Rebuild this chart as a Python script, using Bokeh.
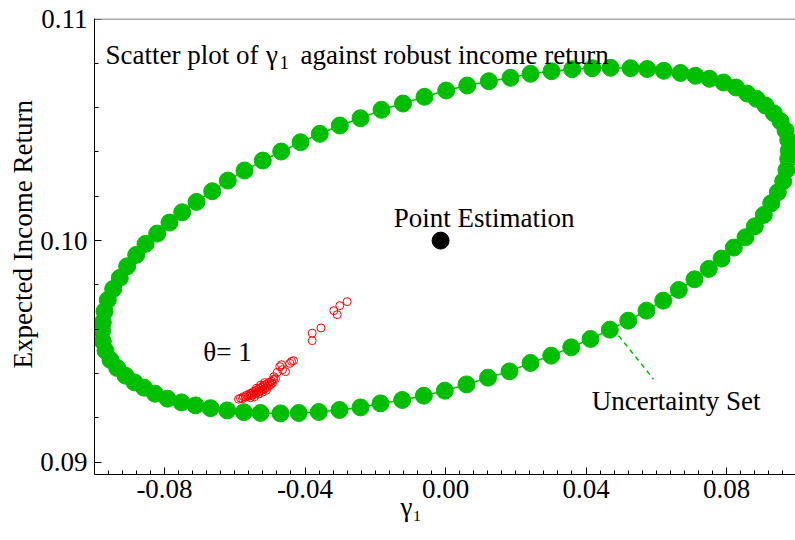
from bokeh.plotting import figure
from bokeh.models import Range1d, FixedTicker, Label, Span, Title
from bokeh.embed import file_html
from bokeh.resources import INLINE

# ---------------- data ----------------
# uncertainty set (ellipse) points: gamma_1 vs expected income return
ellipse_x = [
    -0.09757, -0.09708, -0.09614, -0.09461, -0.09273, -0.09062, -0.08806, -0.08541,
    -0.08208, -0.07858, -0.07496, -0.07089, -0.06642, -0.06198, -0.05722, -0.05202,
    -0.04678, -0.04128, -0.03579, -0.03009, -0.02420, -0.01822, -0.01210, -0.00598,
    0.00020, 0.00618, 0.01233, 0.01851, 0.02420, 0.03018, 0.03607, 0.04177,
    0.04698, 0.05267, 0.05742, 0.06215, 0.06690, 0.07117, 0.07516, 0.07915,
    0.08271, 0.08584, 0.08854, 0.09110, 0.09347, 0.09537, 0.09680, 0.09757, 0.09774,
    0.09757, 0.09708, 0.09614, 0.09461, 0.09273, 0.09062, 0.08806, 0.08541,
    0.08208, 0.07858, 0.07496, 0.07089, 0.06642, 0.06198, 0.05722, 0.05202,
    0.04678, 0.04128, 0.03579, 0.03009, 0.02420, 0.01822, 0.01210, 0.00598,
    -0.00020, -0.00618, -0.01233, -0.01851, -0.02420, -0.03018, -0.03607, -0.04177,
    -0.04698, -0.05267, -0.05742, -0.06215, -0.06690, -0.07117, -0.07516, -0.07915,
    -0.08271, -0.08584, -0.08854, -0.09110, -0.09347, -0.09537, -0.09680, -0.09757, -0.09774,
]
ellipse_y = [
    0.096311, 0.096808, 0.097323, 0.097819, 0.098316, 0.098840, 0.099354, 0.099851,
    0.100316, 0.100813, 0.101278, 0.101747, 0.102226, 0.102709, 0.103161, 0.103612,
    0.104018, 0.104438, 0.104817, 0.105192, 0.105522, 0.105901, 0.106186, 0.106488,
    0.106773, 0.106998, 0.107193, 0.107346, 0.107527, 0.107644, 0.107734, 0.107779,
    0.107797, 0.107779, 0.107743, 0.107662, 0.107563, 0.107436, 0.107301, 0.107134,
    0.106908, 0.106637, 0.106398, 0.106095, 0.105748, 0.105386, 0.104967, 0.104547, 0.104064,
    0.103689, 0.103192, 0.102677, 0.102181, 0.101684, 0.101160, 0.100646, 0.100149,
    0.099684, 0.099187, 0.098722, 0.098253, 0.097774, 0.097291, 0.096839, 0.096388,
    0.095982, 0.095562, 0.095183, 0.094808, 0.094478, 0.094099, 0.093814, 0.093512,
    0.093227, 0.093002, 0.092807, 0.092654, 0.092473, 0.092356, 0.092266, 0.092221,
    0.092203, 0.092221, 0.092257, 0.092338, 0.092437, 0.092564, 0.092699, 0.092866,
    0.093092, 0.093363, 0.093602, 0.093905, 0.094252, 0.094614, 0.095033, 0.095453, 0.095936,
]

# robust solutions for theta = 1
robust_x = [
    -0.05893, -0.05836, -0.05779, -0.05751, -0.05694, -0.05666, -0.05609, -0.05580,
    -0.05552, -0.05523, -0.05495, -0.05466, -0.05438, -0.05409, -0.05381, -0.05352,
    -0.05324, -0.05295, -0.05267, -0.05238, -0.05210, -0.05182, -0.05153, -0.05125,
    -0.05096, -0.05068, -0.05039, -0.05011, -0.04982, -0.04954, -0.04925, -0.04897,
    -0.05324, -0.05210, -0.05096, -0.05552, -0.05438, -0.05381, -0.05267, -0.05153,
    -0.04888, -0.04792, -0.04840, -0.04717, -0.04669, -0.04555, -0.04641, -0.04433,
    -0.04384, -0.04327, -0.03795, -0.03795, -0.03544, -0.03180, -0.03083, -0.03009,
    -0.02799,
]
robust_y = [
    0.092844, 0.092889, 0.092866, 0.092957, 0.092934, 0.093024, 0.092979, 0.093092,
    0.093002, 0.093115, 0.093024, 0.093182, 0.093069, 0.093227, 0.093115, 0.093273,
    0.093160, 0.093340, 0.093205, 0.093386, 0.093273, 0.093453, 0.093318, 0.093498,
    0.093363, 0.093544, 0.093431, 0.093611, 0.093498, 0.093657, 0.093566, 0.093724,
    0.093069, 0.093160, 0.093250, 0.092911, 0.092957, 0.093340, 0.093476, 0.093589,
    0.093860, 0.094054, 0.093769, 0.094311, 0.094401, 0.094085, 0.094176, 0.094460,
    0.094550, 0.094582, 0.095824, 0.095485, 0.096058, 0.096839, 0.096659, 0.097065,
    0.097246,
]

# point estimation
point_x = [-0.0014]
point_y = [0.1000]

# leader line for the "Uncertainty Set" annotation
leader_x = [0.04925, 0.05922]
leader_y = [0.095711, 0.093747]

# ticks
x_ticks = [-0.08, -0.04, 0.0, 0.04, 0.08]
x_tick_labels = ["-0.08", "-0.04", "0.00", "0.04", "0.08"]
x_minor = [-0.1 + 0.004 * i for i in range(51)]
y_ticks = [0.09, 0.10, 0.11]
y_tick_labels = ["0.09", "0.10", "0.11"]
y_minor = [0.088 + 0.002 * i for i in range(13)]

GREEN = "#00bf00"
FONT = "Liberation Serif"
FS = "27px"

p = figure(
    width=795, height=540,
    x_range=Range1d(-0.09993, 0.09964), y_range=Range1d(0.089445, 0.110023),
    output_backend="svg", toolbar_location=None,
    min_border_left=94, min_border_right=0, min_border_top=18, min_border_bottom=66,
)
p.outline_line_color = None
p.grid.visible = False
p.background_fill_color = "white"
p.border_fill_color = "white"

for ax, ticks, labels, minor, stand in (
    (p.xaxis, x_ticks, x_tick_labels, x_minor, 5),
    (p.yaxis, y_ticks, y_tick_labels, y_minor, 7),
):
    ax.ticker = FixedTicker(ticks=ticks, minor_ticks=minor)
    ax.major_label_overrides = dict(zip(ticks, labels))
    ax.major_label_text_font = FONT
    ax.major_label_text_font_size = FS
    ax.major_label_text_color = "black"
    ax.major_label_standoff = stand
    ax.major_tick_in = 7
    ax.major_tick_out = 0
    ax.minor_tick_in = 4
    ax.minor_tick_out = 0
    ax.axis_line_color = "black"
    ax.major_tick_line_color = "black"
    ax.minor_tick_line_color = "black"
    ax.axis_label = None

# axis titles (placed as side titles so they can be positioned like the reference)
p.add_layout(Title(text="Expected Income Return", align="left", offset=106,
                   text_font=FONT, text_font_size=FS, text_font_style="normal",
                   text_color="black", standoff=0), "left")
p.add_layout(Title(text="\u03b3\u2081", align="left", offset=306, vertical_align="top",
                   text_font=FONT, text_font_size=FS, text_font_style="normal",
                   text_color="black", standoff=-18), "below")

# top frame line
p.add_layout(Span(location=0.11, dimension="width", line_color="#8c8c8c", line_width=1.5))

# uncertainty set
p.patch(ellipse_x, ellipse_y, fill_color=None, line_color=GREEN, line_width=1.5)
p.scatter(ellipse_x, ellipse_y, size=17, fill_color=GREEN, line_color=GREEN)

# robust solutions
p.scatter(robust_x, robust_y, size=8, fill_color=None, line_color="red", line_width=1)

# point estimation
p.scatter(point_x, point_y, size=17, fill_color="black", line_color="black")

# leader line
p.line(leader_x, leader_y, line_color=GREEN, line_width=1.5, line_dash="5 4")


def lab(x, y, text, size=FS, align="left", baseline="alphabetic", angle=0.0):
    p.add_layout(Label(x=x, y=y, text=text, text_font=FONT, text_font_size=size,
                       text_color="black", text_align=align, text_baseline=baseline,
                       angle=angle))


# title pieces
lab(-0.09680, 0.108394, "Scatter plot of")
lab(-0.04940, 0.108394, "\u03b3", align="center")
lab(-0.04725, 0.108032, "1", size="19px")
lab(-0.04128, 0.108394, "against robust income return")

# annotations
lab(0.01096, 0.101038, "Point Estimation", align="center")
lab(-0.06206, 0.094957, "\u03b8= 1", align="center")
lab(0.06566, 0.092776, "Uncertainty Set", align="center")

open("out.html", "w").write(file_html(p, INLINE))
